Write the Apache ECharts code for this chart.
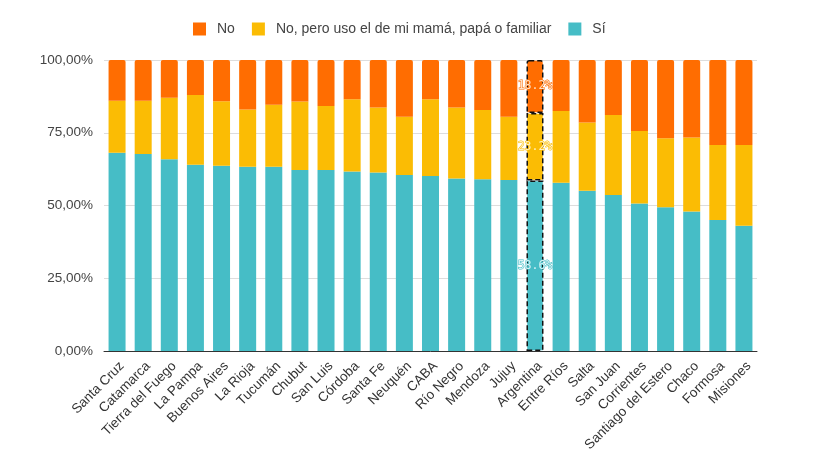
<!DOCTYPE html>
<html>
<head>
<meta charset="utf-8">
<script src="https://cdn.jsdelivr.net/npm/echarts@6/dist/echarts.min.js"></script>
<style>
  html, body { margin: 0; padding: 0; background: #fff; }
  #chart { width: 819px; height: 460px; }
</style>
</head>
<body>
<div id="chart"></div>
<script>
const provinces = [
  "Santa Cruz", "Catamarca", "Tierra del Fuego", "La Pampa", "Buenos Aires",
  "La Rioja", "Tucumán", "Chubut", "San Luis", "Córdoba", "Santa Fe",
  "Neuquén", "CABA", "Río Negro", "Mendoza", "Jujuy", "Argentina",
  "Entre Ríos", "Salta", "San Juan", "Corrientes", "Santiago del Estero",
  "Chaco", "Formosa", "Misiones"
];

// percentages per category
const si = [68.1, 67.7, 65.9, 64.0, 63.7, 63.3, 63.3, 62.2, 62.2, 61.7, 61.3, 60.5, 60.1,
  59.3, 59.0, 58.8, 58.6, 57.8, 55.1, 53.6, 50.7, 49.4, 47.9, 45.0, 43.0];
const familiar = [17.9, 18.3, 21.1, 24.0, 22.1, 19.7, 21.3, 23.5, 22.0, 24.8, 22.4, 20.0, 26.4,
  24.4, 23.8, 21.7, 23.2, 24.7, 23.4, 27.5, 24.9, 23.7, 25.5, 25.8, 27.8];
const no = [14.0, 14.0, 13.0, 12.0, 14.2, 17.0, 15.4, 14.3, 15.8, 13.5, 16.3, 19.5, 13.5,
  16.3, 17.2, 19.5, 18.2, 17.5, 21.5, 18.9, 24.4, 26.9, 26.6, 29.2, 29.2];

const yTicks = [0, 25, 50, 75, 100];

const highlight = "Argentina";
const colors = { no: "#FF6D01", familiar: "#FBBC04", si: "#46BDC6" };
const paleText = { no: "#FFE2C6", familiar: "#FFF1C2", si: "#D9F3F5" };

const chart = echarts.init(document.getElementById("chart"));

// builds a series' data, marking the national average bar
function buildData(values, key) {
  return values.map((v, i) => {
    if (provinces[i] !== highlight) return v;
    return {
      value: v,
      itemStyle: { borderColor: "#111", borderWidth: 1.5, borderType: [5, 3] },
      label: {
        show: true,
        position: "inside",
        formatter: (p) => p.value.toFixed(1) + "%",
        fontFamily: "DejaVu Sans Mono",
        fontSize: 11.5,
        color: paleText[key],
        textBorderColor: colors[key],
        textBorderWidth: 1,
      },
    };
  });
}

const makeSeries = (name, values, key, radius) => ({
  name,
  type: "bar",
  stack: "total",
  barWidth: 17,
  data: buildData(values, key),
  itemStyle: { color: colors[key], borderRadius: radius },
  emphasis: { disabled: true },
});

chart.setOption({
  backgroundColor: "#fff",
  animation: false,
  textStyle: { fontFamily: "Liberation Sans, Arial, sans-serif" },
  legend: {
    top: 17,
    left: 188,
    itemWidth: 13,
    itemHeight: 13,
    itemGap: 17,
    icon: "rect",
    textStyle: { color: "#444", fontSize: 14, padding: [0, 0, 0, 6] },
    data: ["No", "No, pero uso el de mi mamá, papá o familiar", "Sí"],
  },
  grid: { left: 104, right: 62, top: 60, bottom: 109 },
  xAxis: {
    type: "category",
    data: provinces,
    axisTick: { show: false },
    axisLine: { lineStyle: { color: "#333" } },
    axisLabel: {
      interval: 0,
      rotate: 45,
      color: "#333",
      fontSize: 13.5,
      margin: 8,
      verticalAlign: "top",
    },
  },
  yAxis: {
    type: "value",
    min: yTicks[0],
    max: yTicks[yTicks.length - 1],
    interval: 25,
    axisLabel: {
      color: "#444",
      fontSize: 13.5,
      margin: 11,
      formatter: (v) => v.toFixed(2).replace(".", ",") + "%",
    },
    splitLine: { lineStyle: { color: "#ddd" } },
  },
  series: [
    makeSeries("Sí", si, "si", 0),
    makeSeries("No, pero uso el de mi mamá, papá o familiar", familiar, "familiar", 0),
    makeSeries("No", no, "no", [2, 2, 0, 0]),
  ],
});
</script>
</body>
</html>
